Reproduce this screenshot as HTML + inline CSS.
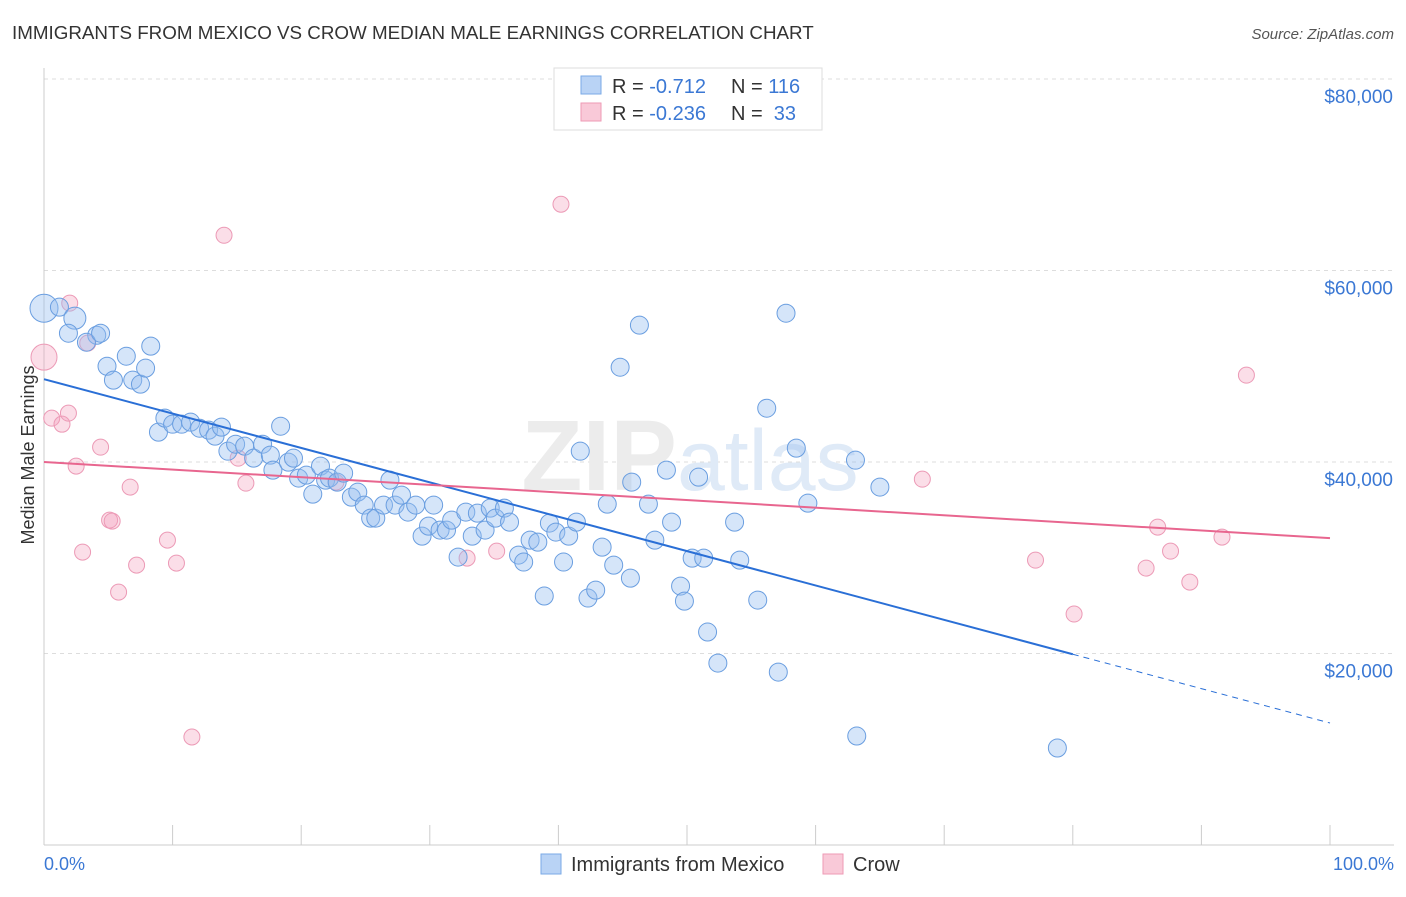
<!DOCTYPE html>
<html><head><meta charset="utf-8"><style>
body{margin:0;background:#fff;font-family:"Liberation Sans",sans-serif;}
svg text{font-family:"Liberation Sans",sans-serif;}
</style></head><body>
<svg id="chart" width="1406" height="892" xmlns="http://www.w3.org/2000/svg">
<text x="12" y="39" font-size="18.8" fill="#333">IMMIGRANTS FROM MEXICO VS CROW MEDIAN MALE EARNINGS CORRELATION CHART</text>
<text x="1394" y="39" font-size="15" fill="#555" text-anchor="end" font-style="italic">Source: ZipAtlas.com</text>
<g id="grid"></g>
<text x="690" y="490" font-size="100" fill="#ececec" text-anchor="middle" font-family="Liberation Serif" font-weight="bold">ZIP<tspan fill="#dfeaf7" font-family="Liberation Sans" font-weight="normal" font-size="86">atlas</tspan></text>
<line x1="44" y1="68" x2="44" y2="845" stroke="#ccc"/>
<line x1="44" y1="845" x2="1394" y2="845" stroke="#ccc"/>
<g id="xticks"></g>
<g id="ylabels"></g>
<text x="34" y="455" font-size="18" fill="#333" text-anchor="middle" transform="rotate(-90 34 455)">Median Male Earnings</text>
<text x="44" y="870" font-size="18" fill="#3b78d4">0.0%</text>
<text x="1394" y="870" font-size="18" fill="#3b78d4" text-anchor="end">100.0%</text>
<g id="pinkpts"></g>
<g id="bluepts"></g>
<g id="lines"></g>
<g>
<rect x="554" y="68" width="268" height="62" fill="#fff" stroke="#ddd"/>
<rect x="581" y="76" width="20" height="18" fill="#b9d3f5" stroke="#7aaae6"/>
<rect x="581" y="103" width="20" height="18" fill="#f9c9d8" stroke="#ee9ab5"/>
<text x="612" y="93" font-size="20" fill="#333">R = <tspan fill="#3b78d4">-0.712</tspan><tspan x="731">N = </tspan><tspan fill="#3b78d4">116</tspan></text>
<text x="612" y="120" font-size="20" fill="#333">R = <tspan fill="#3b78d4">-0.236</tspan><tspan x="731">N = </tspan><tspan fill="#3b78d4">&#160;33</tspan></text>
</g>
<g>
<rect x="541" y="854" width="20" height="20" fill="#b9d3f5" stroke="#7aaae6"/>
<text x="571" y="871" font-size="20" fill="#333">Immigrants from Mexico</text>
<rect x="823" y="854" width="20" height="20" fill="#f9c9d8" stroke="#ee9ab5"/>
<text x="853" y="871" font-size="20" fill="#333">Crow</text>
</g>
</svg>
<script>
const yTicks=[20000,40000,60000,80000];
const yTickLabels=["$20,000","$40,000","$60,000","$80,000"];
const xTicks=[0,10,20,30,40,50,60,70,80,90,100];
const blueX=[0,1.2,2.4,1.9,4.1,3.3,4.4,4.9,5.4,6.4,6.9,7.5,7.9,8.3,8.9,9.4,10.0,10.7,11.4,12.1,12.8,13.3,13.8,14.3,14.9,15.6,16.3,17.0,17.6,17.8,18.4,19.0,19.4,19.8,20.4,20.9,21.5,21.9,22.2,22.8,23.3,23.9,24.4,24.9,25.4,25.8,26.4,26.9,27.3,27.8,28.3,28.9,29.4,29.9,30.3,30.8,31.3,31.7,32.2,32.8,33.3,33.7,34.3,34.7,35.1,35.8,36.2,36.9,37.3,37.8,38.4,38.9,39.3,39.8,40.4,40.8,41.4,41.7,42.3,42.9,43.4,43.8,44.3,44.8,45.6,45.7,46.3,47.0,47.5,48.4,48.8,49.5,49.8,50.4,50.9,51.3,51.6,52.4,53.7,54.1,55.5,56.2,57.1,57.7,58.5,59.4,63.1,63.2,65.0,78.8];
const blueY=[56060,56170,55020,53450,53240,52510,53450,50000,48550,51050,48550,48130,49800,52100,43120,44580,43950,43950,44160,43530,43330,42700,43640,41130,41860,41660,40400,41860,40720,39150,43740,39990,40400,38320,38630,36640,39570,38110,38320,37900,38840,36330,36850,35500,34140,34140,35500,38110,35500,36540,34770,35500,32260,33300,35500,32890,32890,33930,30070,34770,32260,34660,32890,35180,34140,35180,33720,30280,29550,31840,31630,26000,33620,32680,29550,32260,33720,41130,25790,26620,31110,35600,29230,49900,27870,37900,54290,35600,31840,39150,33720,27040,25470,29960,38420,29960,22240,19000,33720,29750,25580,45620,18060,55540,41450,35700,40190,11380,37380,10130];
const pinkX=[0,0.6,1.4,1.9,2.0,2.5,3.0,3.4,4.4,5.1,5.3,5.8,6.7,7.2,9.6,10.3,11.5,14.0,15.1,15.7,22.7,32.9,35.2,40.2,68.3,77.1,80.1,85.7,86.6,87.6,89.1,91.6,93.5];
const pinkY=[50950,44580,43950,45100,56590,39570,30590,52410,41550,33930,33830,26410,37380,29230,31840,29440,11280,63680,40400,37790,37900,29960,30690,66920,38210,29750,24120,28920,33200,30690,27460,32160,49070];
const blueTrend=[48650,12740];
const pinkTrend=[40000,32050];
const NS="http://www.w3.org/2000/svg";
const X0=44,X1=1330,Y0=845,PXPER=191.5/20000;
function sx(p){return X0+(X1-X0)*p/100;}
function sy(v){return Y0-v*PXPER;}
function mk(t,a,parent){const e=document.createElementNS(NS,t);for(const k in a)e.setAttribute(k,a[k]);document.getElementById(parent).appendChild(e);return e;}
yTicks.forEach((v,i)=>{
 const g=mk('line',{x1:44,x2:1394,y1:sy(v),y2:sy(v),stroke:'#ddd','stroke-dasharray':'4,4'},'grid');
 
 
 const t=mk('text',{x:1393,y:sy(v)+24,'font-size':19,fill:'#3b78d4','text-anchor':'end'},'ylabels');
 t.textContent=yTickLabels[i];
 
 
});
xTicks.forEach(p=>{
 const l=mk('line',{x1:sx(p),x2:sx(p),y1:825,y2:845,stroke:'#ccc'},'xticks');
 
 
});
pinkX.forEach((x,i)=>{
 const c=mk('circle',{cx:sx(x),cy:sy(pinkY[i]),r:i==0?13:8,fill:'rgba(244,160,190,0.35)',stroke:'#ec9ab6','stroke-width':1},'pinkpts');
 
 
});
blueX.forEach((x,i)=>{
 const r=i==0?14:(i==2?11:9);
 const c=mk('circle',{cx:sx(x),cy:sy(blueY[i]),r:r,fill:'rgba(150,190,240,0.4)',stroke:'#6a9ee0','stroke-width':1},'bluepts');
 
 
});
function tv(t,p){return t[0]+(t[1]-t[0])*p/100;}
let l1=mk('line',{x1:sx(0),y1:sy(tv(blueTrend,0)),x2:sx(80),y2:sy(tv(blueTrend,80)),stroke:'#2a6fd6','stroke-width':2},'lines');


let l2=mk('line',{x1:sx(80),y1:sy(tv(blueTrend,80)),x2:sx(100),y2:sy(tv(blueTrend,100)),stroke:'#2a6fd6','stroke-width':1,'stroke-dasharray':'6,5'},'lines');


let l3=mk('line',{x1:sx(0),y1:sy(tv(pinkTrend,0)),x2:sx(100),y2:sy(tv(pinkTrend,100)),stroke:'#e8668f','stroke-width':2},'lines');


</script>
</body></html>
